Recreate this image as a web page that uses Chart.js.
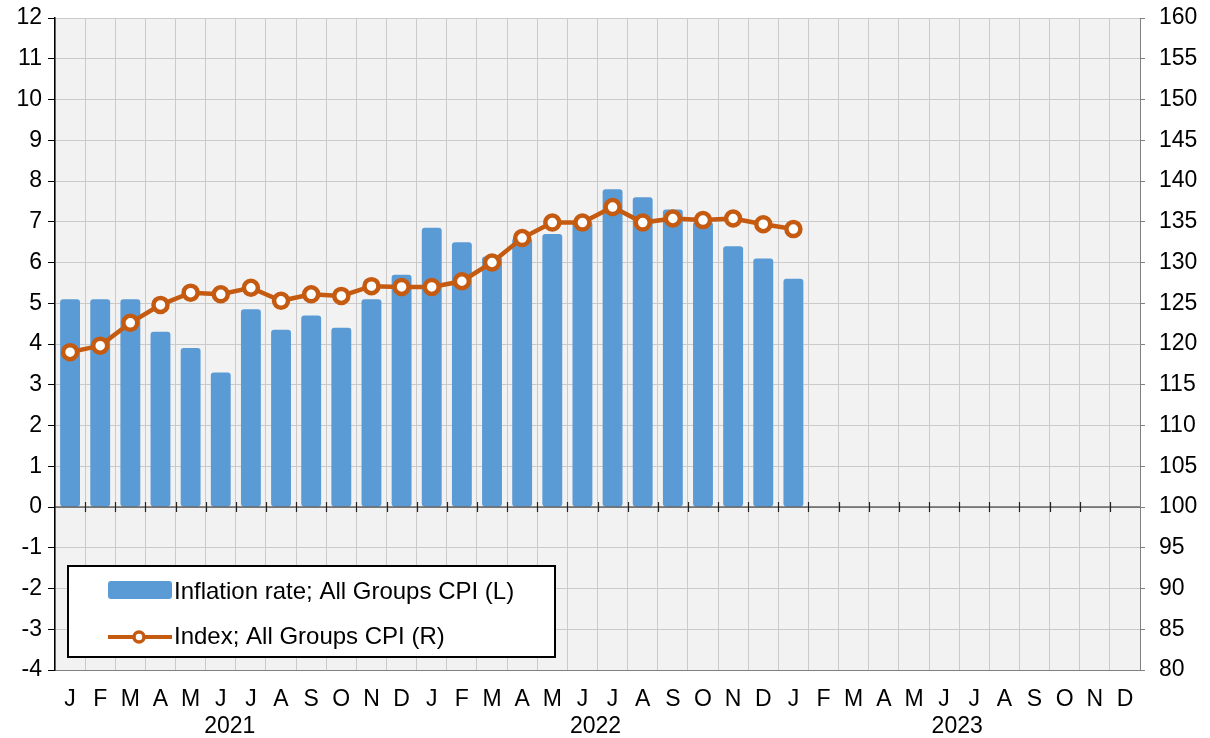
<!DOCTYPE html>
<html>
<head>
<meta charset="utf-8">
<script src="https://cdn.jsdelivr.net/npm/chart.js@4.4.0/dist/chart.umd.min.js"></script>
<style>
  html, body { margin: 0; padding: 0; background: #fff; }
  #wrap { width: 1210px; height: 738px; position: relative; }
</style>
</head>
<body>
<div id="wrap"><canvas id="cpi" width="1210" height="738"></canvas></div>
<script>
// month letters, Jan 2021 .. Dec 2023
const monthLetters = ['J','F','M','A','M','J','J','A','S','O','N','D'];
const years = ['2021', '2022', '2023'];
const months = years.flatMap(() => monthLetters);

// inflation rate, % (left axis)
const inflationRate = [5.1, 5.1, 5.1, 4.3, 3.9, 3.3, 4.85, 4.35, 4.7, 4.4, 5.1, 5.7,
                       6.85, 6.5, 6.15, 6.6, 6.7, 7.0, 7.8, 7.6, 7.3, 7.0, 6.4, 6.1,
                       5.6];
// CPI index (right axis)
const cpiIndex = [119.0, 119.8, 122.6, 124.8, 126.3, 126.1, 126.9, 125.3, 126.1, 125.9, 127.1, 127.0,
                  127.0, 127.7, 130.0, 133.0, 134.9, 134.9, 136.8, 134.9, 135.4, 135.2, 135.4, 134.7,
                  134.1];

const seriesLabels = ['Inflation rate; All Groups CPI (L)', 'Index; All Groups CPI (R)'];

const barColor = '#5b9bd5';
const lineColor = '#c55a11';
const gridColor = '#cacaca';
const fontFamily = '"Liberation Sans", Arial, sans-serif';

function padTo(arr, n) {
    const out = arr.slice();
    while (out.length < n) out.push(null);
    return out;
}

// 배경, 0 축선, 연도 라벨, 범례
const decorPlugin = {
    id: 'decor',
    beforeDraw(chart) {
        const { ctx, chartArea: a } = chart;
        ctx.save();
        ctx.fillStyle = '#f2f2f2';
        ctx.fillRect(a.left, a.top, a.right - a.left, a.bottom - a.top);
        ctx.restore();
    },
    afterDatasetsDraw(chart) {
        const { ctx, chartArea: a } = chart;
        const y0 = chart.scales.y.getPixelForValue(0);
        ctx.save();
        ctx.strokeStyle = '#222';
        ctx.lineWidth = 1.2;
        ctx.beginPath();
        ctx.moveTo(a.left, y0);
        ctx.lineTo(a.right, y0);
        const step = (a.right - a.left) / months.length;
        for (let k = 1; k < months.length; k++) {
            const px = Math.round(a.left + k * step) + 0.5;
            ctx.moveTo(px, y0 - 5);
            ctx.lineTo(px, y0 + 5);
        }
        ctx.stroke();
        ctx.restore();

        // 범례
        const lx = 68, ly = 566, lw = 487, lh = 91;
        ctx.save();
        ctx.fillStyle = '#fff';
        ctx.fillRect(lx, ly, lw, lh);
        ctx.strokeStyle = '#000';
        ctx.lineWidth = 2;
        ctx.strokeRect(lx, ly, lw, lh);

        ctx.fillStyle = barColor;
        ctx.beginPath();
        ctx.roundRect(108, 581, 64, 18, 3);
        ctx.fill();

        ctx.strokeStyle = lineColor;
        ctx.lineWidth = 4;
        ctx.beginPath();
        ctx.moveTo(108, 637);
        ctx.lineTo(172, 637);
        ctx.stroke();
        ctx.fillStyle = '#fff';
        ctx.lineWidth = 3.5;
        ctx.beginPath();
        ctx.arc(139, 637, 5, 0, Math.PI * 2);
        ctx.fill();
        ctx.stroke();

        ctx.fillStyle = '#000';
        ctx.font = '24px ' + fontFamily;
        ctx.textBaseline = 'middle';
        ctx.textAlign = 'left';
        ctx.fillText(seriesLabels[0], 174, 592);
        ctx.fillText(seriesLabels[1], 174, 637);
        ctx.restore();
    },
    afterDraw(chart) {
        const { ctx } = chart;
        const x = chart.scales.x;
        ctx.save();
        ctx.fillStyle = '#000';
        ctx.font = '23px ' + fontFamily;
        ctx.textAlign = 'center';
        ctx.textBaseline = 'middle';
        years.forEach((yr, i) => {
            const px = (x.getPixelForValue(i * 12 + 5) + x.getPixelForValue(i * 12 + 6)) / 2 - (i === 0 ? 6 : 2);
            ctx.fillText(yr, px, 727);
        });
        ctx.restore();
    }
};

function noVPad(scale) {
    scale.paddingTop = 0;
    scale.paddingBottom = 0;
}

const ctx = document.getElementById('cpi').getContext('2d');
new Chart(ctx, {
    data: {
        labels: months,
        datasets: [
            {
                type: 'line',
                label: seriesLabels[1],
                data: padTo(cpiIndex, months.length),
                yAxisID: 'y2',
                borderColor: lineColor,
                borderWidth: 4.5,
                pointRadius: 7,
                pointBorderWidth: 4.5,
                pointBackgroundColor: '#fff',
                pointBorderColor: lineColor,
                tension: 0,
                spanGaps: false,
                order: 1
            },
            {
                type: 'bar',
                label: seriesLabels[0],
                data: padTo(inflationRate, months.length),
                yAxisID: 'y',
                backgroundColor: barColor,
                borderRadius: 3,
                borderSkipped: false,
                barPercentage: 0.66,
                categoryPercentage: 1.0,
                order: 2
            }
        ]
    },
    options: {
        responsive: false,
        animation: false,
        devicePixelRatio: 1,
        layout: { padding: { left: 0, right: 0, top: 18, bottom: 0 } },
        plugins: {
            legend: { display: false },
            tooltip: { enabled: false }
        },
        scales: {
            x: {
                offset: true,
                grid: { color: gridColor, offset: true, drawTicks: false },
                border: { color: '#808080', width: 1 },
                ticks: {
                    color: '#000',
                    font: { family: fontFamily, size: 23 },
                    padding: 16,
                    autoSkip: false,
                    maxRotation: 0
                },
                afterFit(scale) {
                    scale.height = 68;
                    scale.paddingLeft = 0;
                    scale.paddingRight = 0;
                }
            },
            y: {
                position: 'left',
                min: -4,
                max: 12,
                grid: { color: gridColor, tickColor: '#000', tickLength: 7 },
                border: { color: '#000', width: 1.5 },
                ticks: {
                    stepSize: 1,
                    color: '#000',
                    font: { family: fontFamily, size: 23 },
                    padding: 6
                },
                afterFit(scale) { scale.width = 55; noVPad(scale); }
            },
            y2: {
                position: 'right',
                min: 80,
                max: 160,
                grid: { drawOnChartArea: false, tickColor: '#808080', tickLength: 5 },
                border: { color: '#808080', width: 1 },
                ticks: {
                    stepSize: 5,
                    color: '#000',
                    font: { family: fontFamily, size: 23 },
                    padding: 14
                },
                afterFit(scale) { scale.width = 70; noVPad(scale); }
            }
        }
    },
    plugins: [decorPlugin]
});
</script>
</body>
</html>
